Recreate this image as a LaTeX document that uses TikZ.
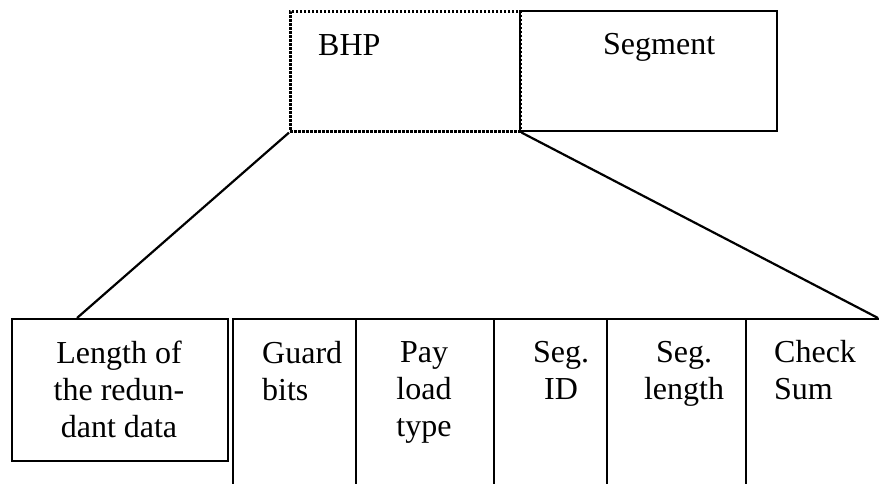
\documentclass[tikz,border=0pt]{standalone}
\usepackage{fontspec}
\setmainfont{Liberation Serif}
\begin{document}
\begin{tikzpicture}[x=1pt,y=-1pt,
  box/.style={draw, line width=2.2pt, rectangle, inner sep=0pt, anchor=north west},
  dotbox/.style={box, line width=2.6pt, dash pattern=on 2.4pt off 1.6pt},
  lbl/.style={font=\fontsize{32}{37}\selectfont, inner sep=0pt},
  conn/.style={line width=2.2pt}]
\useasboundingbox (0,0) rectangle (879,483);
\clip (0,0) rectangle (879,483);
% top boxes
\node[box, minimum width=257pt, minimum height=120pt] (seg) at (519,10) {};
\node[dotbox, minimum width=230pt, minimum height=120pt] (bhp) at (289,10) {};
% bottom boxes
\node[box, minimum width=216pt, minimum height=142pt] (len) at (11,318) {};
\node[box, minimum width=123pt, minimum height=200pt] (guard) at (232,318) {};
\node[box, minimum width=138pt, minimum height=200pt] (pay) at (355,318) {};
\node[box, minimum width=113pt, minimum height=200pt] (segid) at (493,318) {};
\node[box, minimum width=139pt, minimum height=200pt] (seglen) at (606,318) {};
\node[box, minimum width=160pt, minimum height=200pt] (check) at (745,318) {};
% connectors
\coordinate (lt) at (77,318);
\coordinate (rt) at (878,318);
\draw[conn] (bhp.south west) -- (lt);
\draw[conn] (bhp.south east) -- (rt);
% labels (base anchor = baseline of last line)
\node[lbl, anchor=base west] (tbhp) at (318,55) {BHP};
\node[lbl, anchor=base west] (tseg) at (603,54) {Segment};
\node[lbl, anchor=base, align=center] (tlen) at (119,437) {Length of\\the redun-\\dant data};
\node[lbl, anchor=base west, align=left] (tguard) at (262,400) {Guard\\bits};
\node[lbl, anchor=base, align=center] (tpay) at (424,436) {Pay\\load\\type};
\node[lbl, anchor=base, align=center] (tsegid) at (561,399) {Seg.\\ID};
\node[lbl, anchor=base, align=center] (tseglen) at (684,399) {Seg.\\length};
\node[lbl, anchor=base west, align=left] (tcheck) at (774,399) {Check\\Sum};
\end{tikzpicture}
\end{document}
